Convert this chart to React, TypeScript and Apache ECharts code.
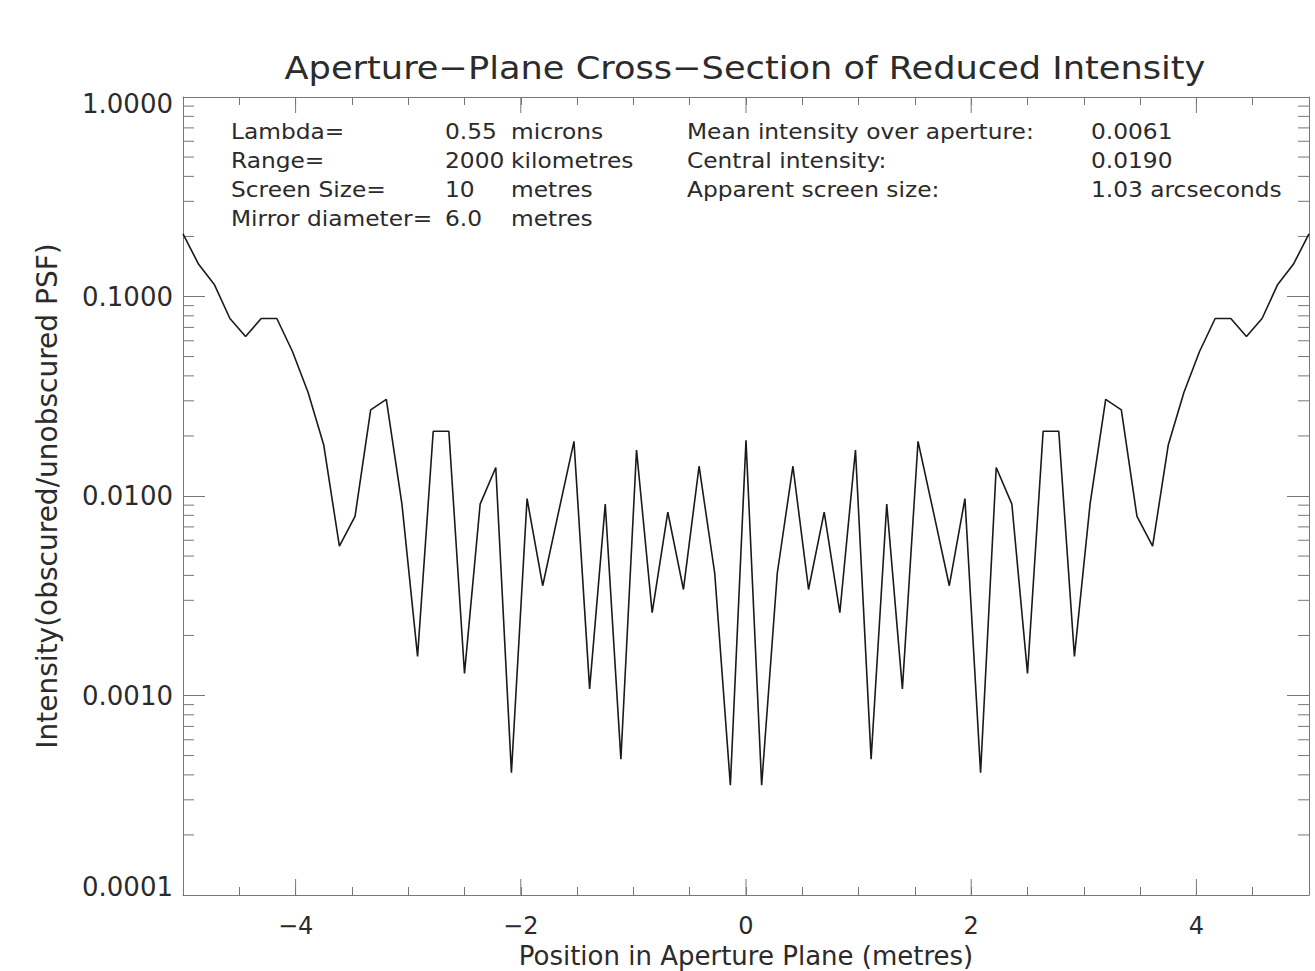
import React, { useEffect, useRef } from 'react';
import * as echarts from 'echarts';

// Sample positions across the aperture plane (metres)
const positions = [
  -5.0, -4.8611, -4.7222, -4.5833, -4.4444, -4.3056, -4.1667, -4.0278, -3.8889, -3.75,
  -3.6111, -3.4722, -3.3333, -3.1944, -3.0556, -2.9167, -2.7778, -2.6389, -2.5, -2.3611,
  -2.2222, -2.0833, -1.9444, -1.8056, -1.6667, -1.5278, -1.3889, -1.25, -1.1111, -0.9722,
  -0.8333, -0.6944, -0.5556, -0.4167, -0.2778, -0.1389, 0.0,
  0.1389, 0.2778, 0.4167, 0.5556, 0.6944, 0.8333, 0.9722, 1.1111, 1.25, 1.3889,
  1.5278, 1.6667, 1.8056, 1.9444, 2.0833, 2.2222, 2.3611, 2.5, 2.6389, 2.7778,
  2.9167, 3.0556, 3.1944, 3.3333, 3.4722, 3.6111, 3.75, 3.8889, 4.0278, 4.1667,
  4.3056, 4.4444, 4.5833, 4.7222, 4.8611, 5.0,
];

// Reduced intensity (obscured / unobscured PSF)
const intensity = [
  0.206, 0.145, 0.115, 0.0776, 0.063, 0.0776, 0.0776, 0.053, 0.033, 0.018,
  0.0056, 0.0079, 0.027, 0.0305, 0.0091, 0.00157, 0.0211, 0.0211, 0.00129, 0.0091,
  0.0139, 0.00041, 0.0097, 0.00355, 0.0082, 0.0188, 0.00108, 0.0091, 0.00048, 0.017,
  0.0026, 0.0083, 0.0034, 0.0141, 0.0041, 0.000355, 0.019,
  0.000355, 0.0041, 0.0141, 0.0034, 0.0083, 0.0026, 0.017, 0.00048, 0.0091, 0.00108,
  0.0188, 0.0082, 0.00355, 0.0097, 0.00041, 0.0139, 0.0091, 0.00129, 0.0211, 0.0211,
  0.00157, 0.0091, 0.0305, 0.027, 0.0079, 0.0056, 0.018, 0.033, 0.053, 0.0776,
  0.0776, 0.063, 0.0776, 0.115, 0.145, 0.206,
];

const xMajorTicks = [-4, -2, 0, 2, 4];
const yMinorTicks = [
  0.0002, 0.0003, 0.0004, 0.0005, 0.0006, 0.0007, 0.0008, 0.0009,
  0.002, 0.003, 0.004, 0.005, 0.006, 0.007, 0.008, 0.009,
  0.02, 0.03, 0.04, 0.05, 0.06, 0.07, 0.08, 0.09,
  0.2, 0.3, 0.4, 0.5, 0.6, 0.7, 0.8, 0.9,
];

const titleText = 'Aperture\u2212Plane Cross\u2212Section of Reduced Intensity';
const xAxisTitle = 'Position in Aperture Plane (metres)';
const yAxisTitle = 'Intensity(obscured/unobscured PSF)';
const paramLabels = ['Lambda=', 'Range=', 'Screen Size=', 'Mirror diameter='];
const paramValues = ['0.55', '2000', '10', '6.0'];
const paramUnits = ['microns', 'kilometres', 'metres', 'metres'];
const statLabels = ['Mean intensity over aperture:', 'Central intensity:', 'Apparent screen size:'];
const statValues = ['0.0061', '0.0190', '1.03 arcseconds'];

const FONT = '"DejaVu Sans", sans-serif';
const TEXT = '#2b2b2b';
const AXIS = '#777';

export default function App() {
  const ref = useRef<HTMLDivElement>(null);

  useEffect(() => {
    document.body.style.margin = '0';
    if (!ref.current) return;
    const chart = echarts.init(ref.current, undefined, { renderer: 'svg' });

    const rowY = [131, 160, 189, 218];
    const annot: any[] = [];
    const mk = (text: string, x: number, y: number) => ({
      type: 'text',
      x,
      y,
      scaleX: 1.11,
      silent: true,
      style: { text, fill: TEXT, font: `21px ${FONT}`, verticalAlign: 'middle', align: 'left' },
    });
    paramLabels.forEach((t, i) => annot.push(mk(t, 231, rowY[i])));
    paramValues.forEach((t, i) => annot.push(mk(t, 445, rowY[i])));
    paramUnits.forEach((t, i) => annot.push(mk(t, 511, rowY[i])));
    statLabels.forEach((t, i) => annot.push(mk(t, 687, rowY[i])));
    statValues.forEach((t, i) => annot.push(mk(t, 1091, rowY[i])));
    annot.push({
      type: 'text',
      x: 745,
      y: 68,
      scaleX: 1.1,
      silent: true,
      style: { text: titleText, fill: TEXT, font: `32px ${FONT}`, verticalAlign: 'middle', align: 'center' },
    });

    const labelRich = {
      hi: { fontFamily: FONT, fontSize: 26, color: TEXT, padding: [14, 0, 0, 0] },
      lo: { fontFamily: FONT, fontSize: 26, color: TEXT, padding: [0, 0, 16, 0] },
      mid: { fontFamily: FONT, fontSize: 26, color: TEXT },
    };

    const xAxisBase = {
      type: 'value',
      min: -5,
      max: 5,
      interval: 0.5,
      splitLine: { show: false },
      axisLine: { show: true, onZero: false, lineStyle: { color: AXIS, width: 1 } },
      axisTick: { show: true, inside: true, length: 8, lineStyle: { color: AXIS, width: 1 } },
    };
    const yAxisBase = {
      type: 'log',
      logBase: 10,
      min: 0.0001,
      max: 1,
      splitLine: { show: false },
      axisLine: { show: true, onZero: false, lineStyle: { color: AXIS, width: 1 } },
      axisTick: { show: true, inside: true, length: 22, lineStyle: { color: AXIS, width: 1 } },
    };

    chart.setOption({
      animation: false,
      backgroundColor: '#fff',
      textStyle: { fontFamily: FONT, color: TEXT },
      grid: { left: 183, right: 6, top: 97, bottom: 76, containLabel: false, outerBoundsMode: 'none' },
      xAxis: [
        {
          ...xAxisBase,
          position: 'bottom',
          name: xAxisTitle,
          nameLocation: 'middle',
          nameGap: 39,
          nameTextStyle: { fontFamily: FONT, fontSize: 26, color: TEXT },
          axisLabel: {
            show: true,
            interval: 0,
            margin: 19,
            fontFamily: FONT,
            fontSize: 24,
            color: TEXT,
            formatter: (v: number) => {
              const r = Math.round(v);
              if (Math.abs(v - r) > 1e-6 || r % 2 !== 0) return '';
              return r < 0 ? '\u2212' + Math.abs(r) : String(r);
            },
          },
        },
        {
          ...xAxisBase,
          position: 'top',
          axisLabel: { show: false },
        },
      ],
      yAxis: [
        {
          ...yAxisBase,
          position: 'left',
          name: yAxisTitle,
          nameLocation: 'middle',
          nameRotate: 90,
          nameGap: 122,
          nameTextStyle: { fontFamily: FONT, fontSize: 28, color: TEXT },
          axisLabel: {
            show: true,
            margin: 10,
            fontFamily: FONT,
            fontSize: 26,
            color: TEXT,
            rich: labelRich,
            formatter: (v: number) => {
              const s = v.toFixed(4);
              if (v > 0.5) return `{hi|${s}}`;
              if (v < 0.0002) return `{lo|${s}}`;
              return `{mid|${s}}`;
            },
          },
        },
        {
          ...yAxisBase,
          position: 'right',
          axisLabel: { show: false },
        },
      ],
      series: [
        {
          type: 'line',
          name: 'intensity',
          data: positions.map((x, i) => [x, intensity[i]]),
          showSymbol: false,
          symbol: 'none',
          lineStyle: { color: '#1a1a1a', width: 1.6 },
          z: 5,
        },
        {
          type: 'custom',
          name: 'yMinor',
          silent: true,
          data: yMinorTicks.map((v) => [-5, v]),
          renderItem: (params: any, api: any) => {
            const cs = params.coordSys;
            const p = api.coord([api.value(0), api.value(1)]);
            const st = { stroke: AXIS, lineWidth: 1 };
            return {
              type: 'group',
              children: [
                { type: 'line', shape: { x1: cs.x, y1: p[1], x2: cs.x + 11, y2: p[1] }, style: st },
                { type: 'line', shape: { x1: cs.x + cs.width - 11, y1: p[1], x2: cs.x + cs.width, y2: p[1] }, style: st },
              ],
            };
          },
          z: 3,
        },
        {
          type: 'custom',
          name: 'xMajor',
          silent: true,
          data: xMajorTicks.map((v) => [v, 0.0001]),
          renderItem: (params: any, api: any) => {
            const cs = params.coordSys;
            const p = api.coord([api.value(0), api.value(1)]);
            const st = { stroke: AXIS, lineWidth: 1 };
            return {
              type: 'group',
              children: [
                { type: 'line', shape: { x1: p[0], y1: cs.y + cs.height, x2: p[0], y2: cs.y + cs.height - 16 }, style: st },
                { type: 'line', shape: { x1: p[0], y1: cs.y, x2: p[0], y2: cs.y + 16 }, style: st },
              ],
            };
          },
          z: 3,
        },
      ],
      graphic: annot,
    });

    return () => chart.dispose();
  }, []);

  return <div ref={ref} style={{ width: 1315, height: 971 }} />;
}
